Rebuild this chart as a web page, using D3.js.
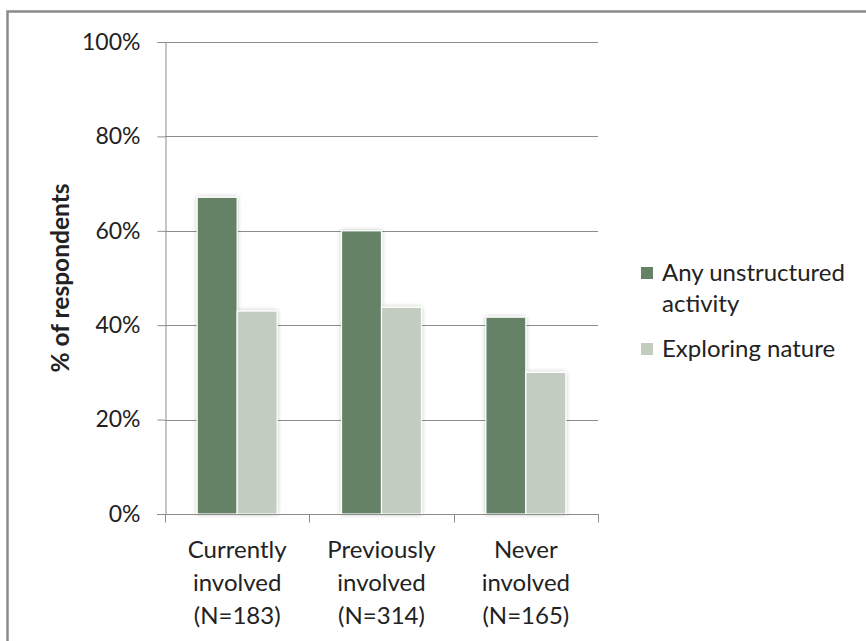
<!DOCTYPE html>
<html>
<head>
<meta charset="utf-8">
<script src="https://cdn.jsdelivr.net/npm/d3@7"></script>
<style>
  html, body { margin: 0; padding: 0; background: #fff; }
  svg { display: block; }
  text { font-family: Lato, "Open Sans", sans-serif; fill: #222; }
</style>
</head>
<body>
<svg id="chart" width="866" height="641"></svg>
<script>
const categories = [["Currently", "involved", "(N=183)"], ["Previously", "involved", "(N=314)"], ["Never", "involved", "(N=165)"]];
const seriesNames = ["Any unstructured activity", "Exploring nature"];
const anyUnstructured = [67.1, 60.0, 41.7];
const exploringNature = [43.0, 43.8, 30.0];
const yTicks = [0, 20, 40, 60, 80, 100];
const colors = ["#658266", "#c2cdc0"];

(function () {
const svg = d3.select("#chart");
const W = 866, H = 641;

// Outer border
svg.append("rect").attr("x", 7.5).attr("y", 11.5).attr("width", W + 10).attr("height", H + 10)
  .attr("fill", "#fff").attr("stroke", "#8a8a8a").attr("stroke-width", 2.5);

const defs = svg.append("defs");
const f = defs.append("filter").attr("id", "shadow").attr("x", "-30%").attr("y", "-10%").attr("width", "160%").attr("height", "120%");
f.append("feGaussianBlur").attr("in", "SourceAlpha").attr("stdDeviation", 2.2);
f.append("feComponentTransfer").append("feFuncA").attr("type", "linear").attr("slope", 0.25);
const m = f.append("feMerge");
m.append("feMergeNode");
m.append("feMergeNode").attr("in", "SourceGraphic");

const pLeft = 165, pRight = 598, pTop = 42, pBottom = 514;

const x = d3.scaleBand().domain(d3.range(categories.length)).range([pLeft, pRight]).paddingInner(0.446).paddingOuter(0.223);
const xs = d3.scaleBand().domain(d3.range(seriesNames.length)).range([0, x.bandwidth()]);
const y = d3.scaleLinear().domain([0, 100]).range([pBottom, pTop]);

// gridlines
svg.append("g").selectAll("line").data(yTicks.filter(d => d > 0)).join("line")
  .attr("x1", pLeft).attr("x2", pRight)
  .attr("y1", d => Math.round(y(d)) + 0.5).attr("y2", d => Math.round(y(d)) + 0.5)
  .attr("stroke", "#8c8c8c").attr("stroke-width", 1);

// y axis
const yAxis = svg.append("g").attr("transform", `translate(${pLeft + 0.5},0)`)
  .call(d3.axisLeft(y).tickValues(yTicks).tickFormat(d => d + "%").tickSize(8).tickPadding(17));
yAxis.select(".domain").attr("stroke", "#8c8c8c");
yAxis.selectAll(".tick line").attr("stroke", "#8c8c8c");
yAxis.selectAll(".tick text").attr("font-size", 23).attr("fill", "#222").attr("font-family", "Lato, sans-serif");

// bars
const series = [anyUnstructured, exploringNature];
const g = svg.append("g").attr("filter", "url(#shadow)");
series.forEach((vals, si) => {
  g.selectAll(null).data(vals).join("rect")
    .attr("x", (d, i) => x(i) + xs(si))
    .attr("y", d => y(d))
    .attr("width", xs.bandwidth())
    .attr("height", d => pBottom - y(d))
    .attr("fill", colors[si])
    .attr("stroke", "#ffffff").attr("stroke-width", 1.2);
});

// x axis
const xAxisG = svg.append("g").attr("transform", `translate(0,${pBottom + 0.5})`);
xAxisG.append("line").attr("x1", pLeft - 8).attr("x2", pRight + 1).attr("stroke", "#8c8c8c");
const bounds = d3.range(categories.length + 1).map(i => pLeft + i * x.step());
xAxisG.selectAll(".tk").data(bounds).join("line").attr("class", "tk")
  .attr("x1", d => Math.round(d) + 0.5).attr("x2", d => Math.round(d) + 0.5)
  .attr("y1", 0).attr("y2", 8).attr("stroke", "#8c8c8c");

const labels = svg.append("g");
categories.forEach((lines, i) => {
  const cx = x(i) + x.bandwidth() / 2;
  lines.forEach((t, j) => {
    labels.append("text").attr("x", cx).attr("y", 558 + j * 33)
      .attr("text-anchor", "middle").attr("font-size", 24).text(t);
  });
});

// y title
svg.append("text").attr("transform", `translate(69,${(pTop + pBottom) / 2}) rotate(-90)`)
  .attr("text-anchor", "middle").attr("font-size", 24.5).attr("font-weight", "bold").text("% of respondents");

// legend
const legend = svg.append("g");
const legLines = [["Any unstructured", "activity"], ["Exploring nature"]];
const legY = [281, 357];
legLines.forEach((lines, i) => {
  legend.append("rect").attr("x", 641).attr("y", legY[i] - 14).attr("width", 12).attr("height", 12)
    .attr("fill", colors[i]);
  lines.forEach((t, j) => {
    legend.append("text").attr("x", 662).attr("y", legY[i] + j * 31).attr("font-size", 24).text(t);
  });
});
})();
</script>
</body>
</html>
